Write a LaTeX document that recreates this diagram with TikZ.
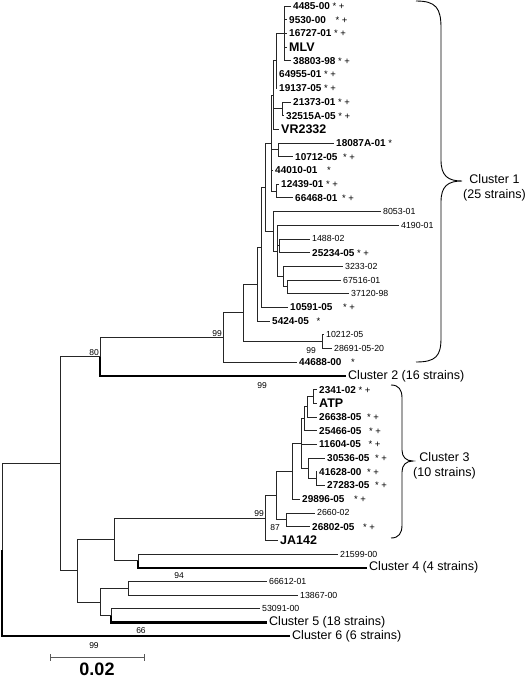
\documentclass[tikz,border=0pt]{standalone}
\usepackage{fontspec}
\setmainfont{Liberation Sans}
\usepackage{tikz}
\tikzset{%
    br/.style={line width=0.75pt,draw=black!85},
    clade/.style={line width=2.4pt,draw=black},
    lf/.style={anchor=west,inner sep=2pt,font=\fontsize{8.8}{9}\selectfont},
    blf/.style={anchor=west,inner sep=2pt,font=\fontsize{10}{11}\selectfont\bfseries},
    rlf/.style={anchor=west,inner sep=2pt,font=\fontsize{12.5}{13}\selectfont\bfseries},
    clus/.style={anchor=west,inner sep=2pt,font=\fontsize{12.5}{15}\selectfont,align=center},
    bs/.style={inner sep=1pt,font=\fontsize{8.5}{9}\selectfont},
    brc/.style={line width=0.9pt}
}
\newcommand{\mkb}[1][0pt]{{\mdseries\fontsize{9.5}{9}\selectfont\hspace{#1}\ *\ +}}
\newcommand{\mka}[1][0pt]{{\mdseries\fontsize{9.5}{9}\selectfont\hspace{#1}\ *}}

\begin{document}
\begin{tikzpicture}[x=1pt,y=-1pt]
    \useasboundingbox (0,0) rectangle (528,680);

    % cluster 1
    \coordinate (a1) at (284,33.4);
    \coordinate (a3) at (276,60.8);
    \coordinate (a4) at (282,108.75);
    \coordinate (a5) at (273,95);
    \coordinate (a6) at (278,149.85);
    \coordinate (a7) at (276,190.95);
    \coordinate (a8) at (271,143);
    \coordinate (b1) at (279,245.75);
    \coordinate (b2) at (287,286.85);
    \coordinate (b3) at (283,276.6);
    \coordinate (b4) at (277,250.9);
    \coordinate (b5) at (273,231.2);
    \coordinate (b6) at (265,187);
    \coordinate (b7) at (261,247);
    \coordinate (b8) at (257,284);
    \coordinate (b9) at (322,341.65);
    \coordinate (b10) at (243,312.8);
    \coordinate (b11) at (223,337.5);
    \coordinate (c1) at (100,356.7);
    % cluster 3
    \coordinate (d1) at (313,396.45);
    \coordinate (d2) at (307,406.7);
    \coordinate (d3) at (304,418.7);
    \coordinate (d4) at (316,478.65);
    \coordinate (d5) at (308,468.4);
    \coordinate (d6) at (301,443.5);
    \coordinate (d7) at (292,471.3);
    \coordinate (d8) at (286,519.75);
    \coordinate (d9) at (276,495.5);
    \coordinate (d10) at (265,517.9);
    % lower part
    \coordinate (e1) at (138,560.85);
    \coordinate (f1) at (114,539.4);
    \coordinate (g1) at (128,588.25);
    \coordinate (g2) at (111,615.65);
    \coordinate (g3) at (100,601.95);
    \coordinate (h1) at (77,570.7);
    \coordinate (r2) at (60,463.7);
    \coordinate (r0) at (2,549.95);

    \node[blf] (l0) at (291,6) {4485-00\mkb};
    \node[blf] (l1) at (287,19.7) {9530-00\mkb[7pt]};
    \node[blf] (l2) at (287,33.4) {16727-01\mkb};
    \node[rlf] (l3) at (287,47.1) {MLV};
    \node[blf] (l4) at (291,60.8) {38803-98\mkb};
    \node[blf] (l5) at (277,74.5) {64955-01\mkb};
    \node[blf] (l6) at (277,88.2) {19137-05\mkb};
    \node[blf] (l7) at (291,101.9) {21373-01\mkb};
    \node[blf] (l8) at (284,115.6) {32515A-05\mkb};
    \node[rlf] (l9) at (279,129.3) {VR2332};
    \node[blf] (l10) at (334,143) {18087A-01\mka};
    \node[blf] (l11) at (293,156.7) {10712-05\mkb[3pt]};
    \node[blf] (l12) at (273,170.4) {44010-01\mka[7pt]};
    \node[blf] (l13) at (279,184.1) {12439-01\mkb};
    \node[blf] (l14) at (293,197.8) {66468-01\mkb[2pt]};
    \node[lf] (l15) at (381,211.5) {8053-01};
    \node[lf] (l16) at (399,225.2) {4190-01};
    \node[lf] (l17) at (310,238.9) {1488-02};
    \node[blf] (l18) at (310,252.6) {25234-05\mkb};
    \node[lf] (l19) at (343,266.3) {3233-02};
    \node[lf] (l20) at (341,280) {67516-01};
    \node[lf] (l21) at (349,293.7) {37120-98};
    \node[blf] (l22) at (288,307.4) {10591-05\mkb[8pt]};
    \node[blf] (l23) at (270,321.1) {5424-05\mka[5pt]};
    \node[lf] (l24) at (324,334.8) {10212-05};
    \node[lf] (l25) at (332,348.5) {28691-05-20};
    \node[blf] (l26) at (297,362.2) {44688-00\mka[7pt]};
    \node[clus] (cl2) at (346,375.9) {Cluster 2 (16 strains)};
    \node[blf] (l28) at (317,389.6) {2341-02\mkb};
    \node[rlf] (l29) at (317,403.3) {ATP};
    \node[blf] (l30) at (317,417) {26638-05\mkb[3pt]};
    \node[blf] (l31) at (317,430.7) {25466-05\mkb[5pt]};
    \node[blf] (l32) at (317,444.4) {11604-05\mkb[5pt]};
    \node[blf] (l33) at (325,458.1) {30536-05\mkb[3pt]};
    \node[blf] (l34) at (317,471.8) {41628-00\mkb[3pt]};
    \node[blf] (l35) at (325,485.5) {27283-05\mkb[3pt]};
    \node[blf] (l36) at (300,499.2) {29896-05\mkb[7pt]};
    \node[lf] (l37) at (315,512.9) {2660-02};
    \node[blf] (l38) at (310,526.6) {26802-05\mkb[6pt]};
    \node[rlf] (l39) at (278,540.3) {JA142};
    \node[lf] (l40) at (338,554) {21599-00};
    \node[clus] (cl4) at (367,567.7) {Cluster 4 (4 strains)};
    \node[lf] (l42) at (267,581.4) {66612-01};
    \node[lf] (l43) at (298,595.1) {13867-00};
    \node[lf] (l44) at (260,608.8) {53091-00};
    \node[clus] (cl5) at (267,622.5) {Cluster 5 (18 strains)};
    \node[clus] (cl6) at (290,636.2) {Cluster 6 (6 strains)};

    \draw[br] (a1) |- (l0) (a1) |- (l1) (a1) |- (l2) (a1) |- (l3) (a1) |- (l4);
    \draw[br] (a3) |- (a1) (a3) |- (l5) (a3) |- (l6);
    \draw[br] (a4) |- (l7) (a4) |- (l8);
    \draw[br] (a5) |- (a3) (a5) |- (a4) (a5) |- (l9);
    \draw[br] (a6) |- (l10) (a6) |- (l11);
    \draw[br] (a7) |- (l13) (a7) |- (l14);
    \draw[br] (a8) |- (a5) (a8) |- (a6) (a8) |- (l12) (a8) |- (a7);
    \draw[br] (b1) |- (l17) (b1) |- (l18);
    \draw[br] (b2) |- (l20) (b2) |- (l21);
    \draw[br] (b3) |- (l19) (b3) |- (b2);
    \draw[br] (b4) |- (l16) (b4) |- (b1) (b4) |- (b3);
    \draw[br] (b5) |- (l15) (b5) |- (b4);
    \draw[br] (b6) |- (a8) (b6) |- (b5);
    \draw[br] (b7) |- (b6) (b7) |- (l22);
    \draw[br] (b8) |- (b7) (b8) |- (l23);
    \draw[br] (b9) |- (l24) (b9) |- (l25);
    \draw[br] (b10) |- (b8) (b10) |- (b9);
    \draw[br] (b11) |- (b10) (b11) |- (l26);
    \draw[br] (c1) |- (b11);
    \draw[clade] (c1) |- (cl2);
    \draw[br] (d1) |- (l28) (d1) |- (l29);
    \draw[br] (d2) |- (d1) (d2) |- (l30);
    \draw[br] (d3) |- (d2) (d3) |- (l31);
    \draw[br] (d4) |- (l34) (d4) |- (l35);
    \draw[br] (d5) |- (l33) (d5) |- (d4);
    \draw[br] (d6) |- (d3) (d6) |- (l32) (d6) |- (d5);
    \draw[br] (d7) |- (d6) (d7) |- (l36);
    \draw[br] (d8) |- (l37) (d8) |- (l38);
    \draw[br] (d9) |- (d7) (d9) |- (d8);
    \draw[br] (d10) |- (d9) (d10) |- (l39);
    \draw[br] (e1) |- (l40);
    \draw[clade] (e1) |- (cl4);
    \draw[br] (f1) |- (d10) (f1) |- (e1);
    \draw[br] (g1) |- (l42) (g1) |- (l43);
    \draw[br] (g2) |- (l44);
    \draw[clade] (g2) |- (cl5);
    \draw[br] (g3) |- (g1) (g3) |- (g2);
    \draw[br] (h1) |- (f1) (h1) |- (g3);
    \draw[br] (r2) |- (c1) (r2) |- (h1);
    \draw[br] (r0) |- (r2);
    \draw[clade] (r0) |- (cl6);

    % bootstrap values
    \node[bs,above left] (bs80) at (c1) {80};
    \node[bs,above left] (bs1) at (b11) {99};
    \node[bs] (bs2) at (311,351) {99};
    \node[bs] (bs3) at (262,386) {99};
    \node[bs,above left] (bs4) at (d10) {99};
    \node[bs] (bs5) at (275,528) {87};
    \node[bs] (bs6) at (179,576) {94};
    \node[bs] (bs7) at (141,631) {66};
    \node[bs] (bs8) at (94,646) {99};

    % braces
    \draw[brc] (416,1) .. controls (436,1) and (441,8) .. (441,28) -- (441,160)
        .. controls (441,176) and (448,181) .. (462,181)
        .. controls (448,181) and (441,186) .. (441,202) -- (441,338)
        .. controls (441,356) and (436,362) .. (416,362);
    \node[clus] (cl1) at (461,188) {Cluster 1\\(25 strains)};
    \draw[brc] (391,385) .. controls (399,385) and (402,390) .. (402,398) -- (402,450)
        .. controls (402,457) and (406,461) .. (413,461)
        .. controls (406,461) and (402,465) .. (402,472) -- (402,525)
        .. controls (402,533) and (399,538) .. (391,538);
    \node[clus] (cl3) at (411,466) {Cluster 3\\(10 strains)};

    % scale bar
    \coordinate (s0) at (50,657);
    \coordinate (s1) at (144,657);
    \draw[br,draw=black!65] (s0) -- (s1) ([yshift=-3.5pt]s0) -- ([yshift=3.5pt]s0)
        ([yshift=-3.5pt]s1) -- ([yshift=3.5pt]s1);
    \node[font=\fontsize{18}{19}\selectfont\bfseries,anchor=base,inner sep=0pt] (sc) at (97,675) {0.02};
\end{tikzpicture}
\end{document}
